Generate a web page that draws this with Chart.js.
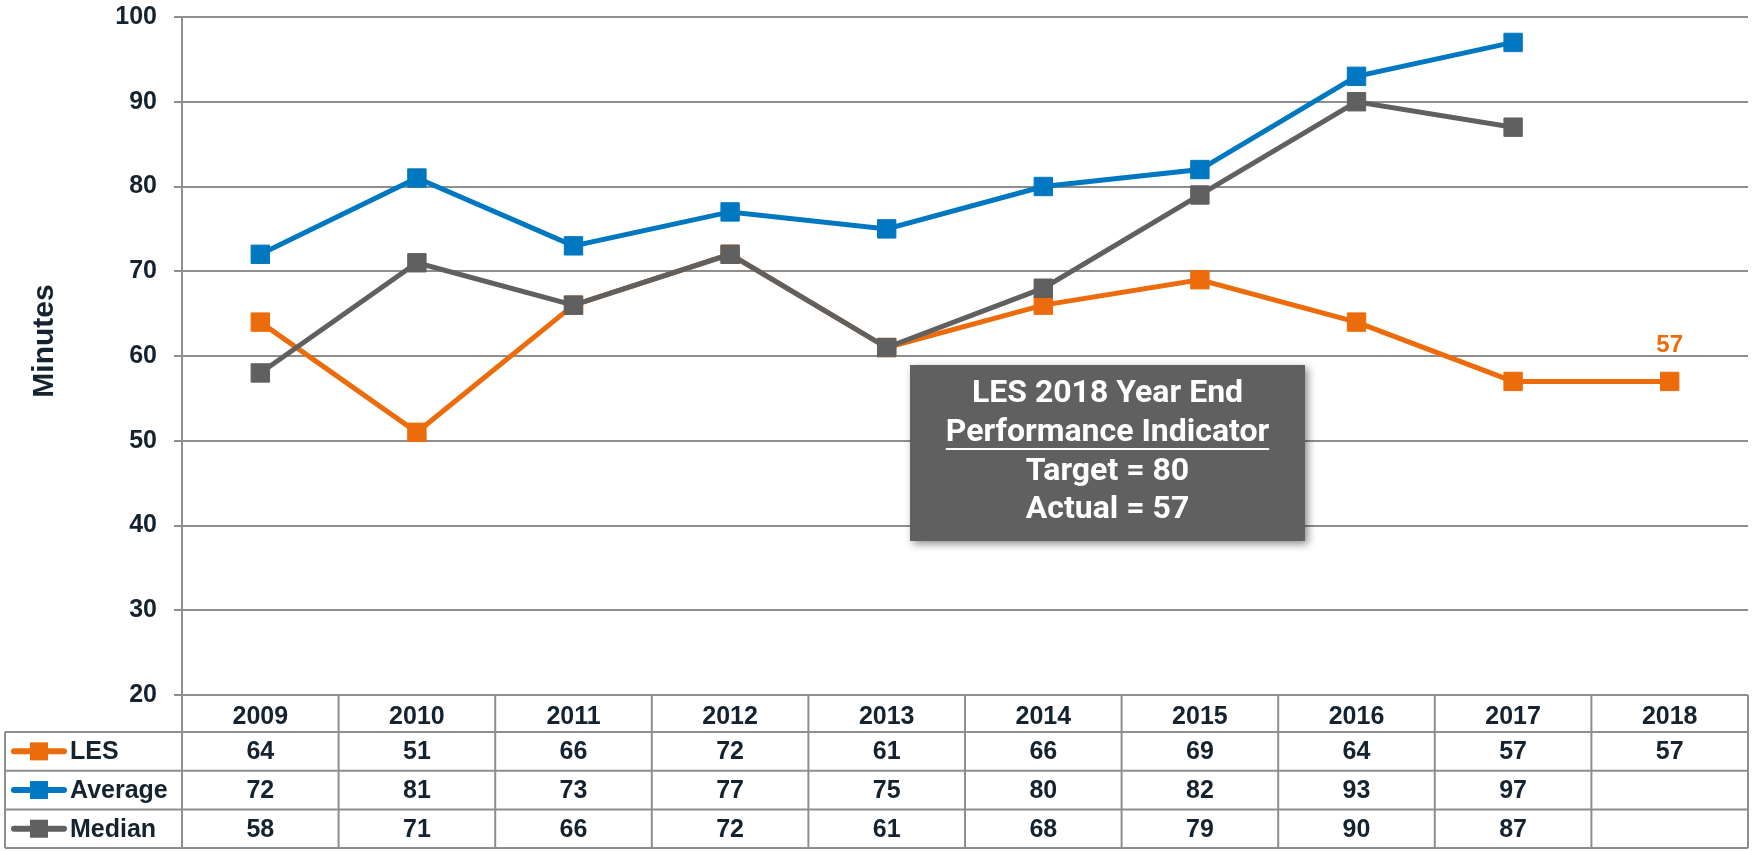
<!DOCTYPE html>
<html>
<head>
<meta charset="utf-8">
<script src="https://cdn.jsdelivr.net/npm/chart.js@4/dist/chart.umd.min.js"></script>
<style>
  html, body { margin: 0; padding: 0; background: #ffffff; }
  #wrap { width: 1762px; height: 851px; position: relative; }
</style>
</head>
<body>
<div id="wrap"><canvas id="c" width="1762" height="851"></canvas></div>
<script>
const years = ['2009', '2010', '2011', '2012', '2013', '2014', '2015', '2016', '2017', '2018'];
const lesValues = [64, 51, 66, 72, 61, 66, 69, 64, 57, 57];
const averageValues = [72, 81, 73, 77, 75, 80, 82, 93, 97, null];
const medianValues = [58, 71, 66, 72, 61, 68, 79, 90, 87, null];
const yTicks = [20, 30, 40, 50, 60, 70, 80, 90, 100];
const seriesNames = ['LES', 'Average', 'Median'];
const seriesColors = ['#EC6C0B', '#0078C1', '#606060'];
const boxLines = ['LES 2018 Year End', 'Performance Indicator', 'Target = 80', 'Actual = 57'];
const yTitle = 'Minutes';

const TEXT = '#14232f';
const GRID = '#8e8e8e';
const FONT = '"Liberation Sans", Arial, sans-serif';
const FS = 25;

const tablePlugin = {
  id: 'tablePlugin',
  afterDraw(chart) {
    const ctx = chart.ctx;
    const xs = chart.scales.x;
    const area = chart.chartArea;
    const left = area.left, right = area.right;
    const headTop = area.bottom;
    const headH = 37;
    const rowH = 38.7;
    const tableLeft = 5;
    const colW = (right - left) / years.length;
    const rowsTop = headTop + headH;
    const bottom = rowsTop + rowH * 3;

    ctx.save();
    // y-axis title
    ctx.save();
    ctx.translate(45, (area.top + area.bottom) / 2 - 15);
    ctx.rotate(-Math.PI / 2);
    ctx.fillStyle = TEXT;
    ctx.font = 'bold 30px ' + FONT;
    ctx.textAlign = 'center';
    ctx.textBaseline = 'middle';
    ctx.fillText(yTitle, 0, 0);
    ctx.restore();

    ctx.strokeStyle = GRID;
    ctx.lineWidth = 2;
    ctx.beginPath();
    ctx.moveTo(left, headTop); ctx.lineTo(right, headTop);
    for (let r = 0; r <= 3; r++) {
      const y = rowsTop + r * rowH;
      ctx.moveTo(tableLeft, y); ctx.lineTo(right, y);
    }
    ctx.moveTo(tableLeft, rowsTop); ctx.lineTo(tableLeft, bottom);
    for (let k = 0; k <= years.length; k++) {
      const x = left + k * colW;
      ctx.moveTo(x, headTop); ctx.lineTo(x, bottom);
    }
    ctx.stroke();

    const seriesData = [lesValues, averageValues, medianValues];
    ctx.fillStyle = TEXT;
    ctx.font = 'bold ' + FS + 'px ' + FONT;
    ctx.textAlign = 'center';
    ctx.textBaseline = 'middle';
    for (let r = 0; r < 3; r++) {
      const yc = rowsTop + r * rowH + rowH / 2 + 1;
      seriesData[r].forEach((v, i) => {
        if (v === null) return;
        ctx.fillText(String(v), xs.getPixelForValue(i), yc);
      });
    }
    for (let r = 0; r < 3; r++) {
      const yc = rowsTop + r * rowH + rowH / 2;
      ctx.strokeStyle = seriesColors[r];
      ctx.lineWidth = 6;
      ctx.lineCap = 'round';
      ctx.beginPath();
      ctx.moveTo(14, yc); ctx.lineTo(64, yc);
      ctx.stroke();
      ctx.fillStyle = seriesColors[r];
      ctx.fillRect(30, yc - 9, 18, 18);
      ctx.fillStyle = TEXT;
      ctx.textAlign = 'left';
      ctx.font = 'bold ' + FS + 'px ' + FONT;
      ctx.fillText(seriesNames[r], 70, yc + 1);
    }

    const meta = chart.getDatasetMeta(0);
    const lastPt = meta.data[lesValues.length - 1];
    ctx.fillStyle = seriesColors[0];
    ctx.font = 'bold 24px ' + FONT;
    ctx.textAlign = 'center';
    ctx.textBaseline = 'middle';
    ctx.fillText(String(lesValues[lesValues.length - 1]), lastPt.x, lastPt.y - 36);

    const bx = 910, by = 365, bw = 395, bh = 176;
    ctx.save();
    ctx.shadowColor = 'rgba(0,0,0,0.45)';
    ctx.shadowBlur = 8;
    ctx.shadowOffsetX = 3;
    ctx.shadowOffsetY = 3;
    ctx.fillStyle = '#606060';
    ctx.fillRect(bx, by, bw, bh);
    ctx.restore();
    ctx.fillStyle = '#ffffff';
    ctx.font = 'bold 32px Roboto, "Liberation Sans", sans-serif';
    ctx.textAlign = 'center';
    ctx.textBaseline = 'middle';
    const cx = bx + bw / 2;
    const lineYs = [by + 29, by + 68, by + 107, by + 145];
    boxLines.forEach((t, i) => {
      ctx.fillText(t, cx, lineYs[i]);
      if (i === 1) {
        const w = ctx.measureText(t).width;
        ctx.fillRect(cx - w / 2, lineYs[i] + 15, w, 2);
      }
    });
    ctx.restore();
  }
};

const mkDs = (label, data, color, order) => ({
  label, data,
  borderColor: color,
  backgroundColor: color,
  borderWidth: 5,
  pointStyle: 'rect',
  pointRadius: 13,
  pointBorderWidth: 1,
  pointBorderColor: color,
  pointBackgroundColor: color,
  tension: 0,
  order
});

new Chart(document.getElementById('c'), {
  type: 'line',
  data: {
    labels: years,
    datasets: [
      mkDs(seriesNames[0], lesValues, seriesColors[0], 3),
      mkDs(seriesNames[1], averageValues, seriesColors[1], 1),
      mkDs(seriesNames[2], medianValues, seriesColors[2], 2)
    ]
  },
  options: {
    responsive: false,
    animation: false,
    layout: { padding: { top: 17, right: 1, left: 0, bottom: 0 } },
    plugins: { legend: { display: false }, tooltip: { enabled: false } },
    scales: {
      x: {
        offset: true,
        grid: { display: false, drawTicks: false },
        border: { display: false },
        ticks: {
          color: TEXT,
          font: { family: FONT, weight: 'bold', size: FS },
          padding: 7,
          maxRotation: 0,
          autoSkip: false
        },
        afterFit(s) { s.height = 156; }
      },
      y: {
        min: 20, max: 100,
        afterBuildTicks(s) { s.ticks = yTicks.map(v => ({ value: v })); },
        ticks: {
          color: TEXT,
          font: { family: FONT, weight: 'bold', size: FS },
          padding: 17
        },
        grid: { color: GRID, lineWidth: 2, tickLength: 8 },
        border: { color: GRID, width: 2 },
        title: { display: false },
        afterFit(s) { s.width = 182; s.paddingTop = 0; s.paddingBottom = 0; }
      }
    }
  },
  plugins: [tablePlugin]
});
</script>
</body>
</html>
